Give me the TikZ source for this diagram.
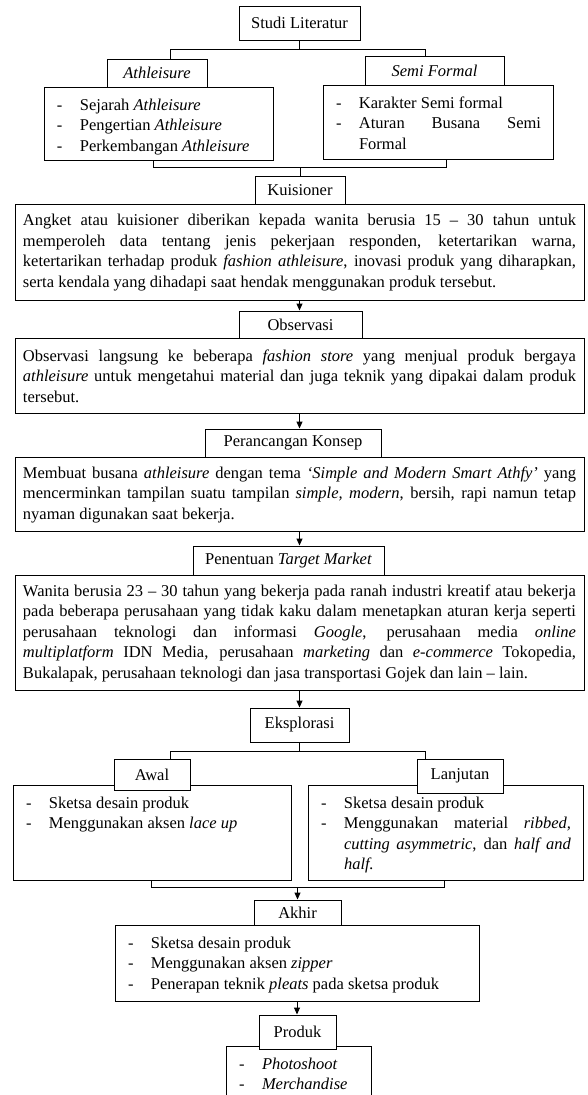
\documentclass[tikz,border=0pt]{standalone}
\usepackage{fontspec}
\setmainfont{Liberation Serif}
\usetikzlibrary{arrows.meta}
\newcommand{\butir}[1]{\makebox[24pt][l]{\hspace{1pt}-}\parbox[t]{\dimexpr\linewidth-24pt}{\strut#1}\par}
\newcommand{\daftarisi}[3]{\parbox[c][#2][t]{#1}{\vspace*{2.5pt}#3}}

\begin{document}
\begin{tikzpicture}[x=1pt,y=-1pt,
  font=\fontsize{16.5pt}{20.5pt}\selectfont,
  judul/.style={draw,line width=1pt,fill=white,inner sep=0pt},
  isi/.style={draw,line width=1pt,fill=white,anchor=north,text width=553pt,
    align=justify,inner xsep=8pt,inner ysep=6pt},
  daftar/.style={draw,line width=1pt,fill=white,anchor=north,inner xsep=12pt,inner ysep=6pt},
  garis/.style={line width=1pt},
  panah/.style={line width=1pt,-{Triangle[length=7pt,width=6pt]}}]
  \clip (0,0) rectangle (587,1095);
  \tolerance=10000 \hbadness=10000 \vbadness=10000 \hyphenpenalty=10000
  % Studi Literatur
  \node[daftar] (daftarA) at (158.5,87)
    {\daftarisi{205pt}{61pt}{\butir{Sejarah \emph{Athleisure}}\butir{Pengertian \emph{Athleisure}}\butir{Perkembangan \emph{Athleisure}}}};
  \node[daftar] (daftarB) at (438,85)
    {\daftarisi{206pt}{62pt}{\butir{Karakter Semi formal}\butir{Aturan Busana Semi\linebreak Formal}}};
  \node[judul,minimum width=121pt,minimum height=34pt] (studi) at (299.5,23) {Studi Literatur};
  \node[judul,minimum width=100pt,minimum height=28pt] (athl) at (157,73) {\emph{Athleisure}};
  \node[judul,minimum width=139pt,minimum height=29pt] (semi) at (434.5,70.5) {\emph{Semi Formal}};
  \coordinate (cabKiri) at (170,49);
  \coordinate (cabKanan) at (425,49);
  \draw[garis] (studi.south) |- (cabKiri) -- (athl.north -| cabKiri);
  \draw[garis] (studi.south) |- (cabKanan) -- (semi.north -| cabKanan);
  \coordinate (gabKiri) at (153,167);
  \coordinate (gabKanan) at (446,167);
  \draw[garis] (daftarA.south -| gabKiri) -- (gabKiri) -- (gabKanan) -- (daftarB.south -| gabKanan);
  % Kuisioner
  \node[judul,minimum width=90pt,minimum height=28pt] (kuis) at (300,190) {Kuisioner};
  \draw[garis] (gabKiri -| kuis.north) -- (kuis.north);
  \node[isi,minimum height=96pt] (kuisT) at (299.5,204)
    {Angket atau kuisioner diberikan kepada wanita berusia 15 -- 30 tahun untuk\linebreak
     memperoleh data tentang jenis pekerjaan responden, ketertarikan warna,\linebreak
     ketertarikan terhadap produk \emph{fashion athleisure}, inovasi produk yang diharapkan,\linebreak
     serta kendala yang dihadapi saat hendak menggunakan produk tersebut.};
  % Observasi
  \node[judul,minimum width=123pt,minimum height=27pt] (obs) at (300.5,324.5) {Observasi};
  \draw[panah] (kuisT.south) -- (kuisT.south |- obs.north);
  \node[isi,minimum height=75pt] (obsT) at (299.5,338)
    {Observasi langsung ke beberapa \emph{fashion store} yang menjual produk bergaya\linebreak
     \emph{athleisure} untuk mengetahui material dan juga teknik yang dipakai dalam produk\linebreak
     tersebut.};
  % Perancangan Konsep
  \node[judul,minimum width=176pt,minimum height=28pt] (konsep) at (293,443) {Perancangan Konsep};
  \draw[panah] (obsT.south) -- (obsT.south |- konsep.north);
  \node[isi,minimum height=74pt] (konsepT) at (299.5,457)
    {Membuat busana \emph{athleisure} dengan tema \emph{`Simple and Modern Smart Athfy'} yang\linebreak
     mencerminkan tampilan suatu tampilan \emph{simple, modern}, bersih, rapi namun tetap\linebreak
     nyaman digunakan saat bekerja.};
  % Penentuan Target Market
  \node[judul,minimum width=191pt,minimum height=29pt] (target) at (288.5,560.5) {Penentuan \emph{Target Market}};
  \draw[panah] (konsepT.south) -- (konsepT.south |- target.north);
  \node[isi,minimum height=115pt] (targetT) at (299.5,575)
    {Wanita berusia 23 -- 30 tahun yang bekerja pada ranah industri kreatif atau bekerja\linebreak
     pada beberapa perusahaan yang tidak kaku dalam menetapkan aturan kerja seperti\linebreak
     perusahaan teknologi dan informasi \emph{Google}, perusahaan media \emph{online}\linebreak
     \emph{multiplatform} IDN Media, perusahaan \emph{marketing} dan \emph{e-commerce} Tokopedia,\linebreak
     Bukalapak, perusahaan teknologi dan jasa transportasi Gojek dan lain -- lain.};
  % Eksplorasi
  \node[judul,minimum width=99pt,minimum height=34pt] (eks) at (299.5,725) {Eksplorasi};
  \draw[panah] (targetT.south) -- (targetT.south |- eks.north);
  \node[daftar] (awalL) at (152,785)
    {\daftarisi{254pt}{83pt}{\butir{Sketsa desain produk}\butir{Menggunakan aksen \emph{lace up}}}};
  \node[daftar] (lanjutL) at (445.5,785)
    {\daftarisi{251pt}{83pt}{\butir{Sketsa desain produk}\butir{Menggunakan material \emph{ribbed,}\linebreak
     \emph{cutting asymmetric}, dan \emph{half and}\linebreak \emph{half.}}}};
  \node[judul,minimum width=76pt,minimum height=31pt] (awal) at (152,774.5) {Awal};
  \node[judul,minimum width=86pt,minimum height=34pt] (lanjut) at (460,776) {Lanjutan};
  \coordinate (cabKiri2) at (170,751);
  \coordinate (cabKanan2) at (425,751);
  \draw[garis] (eks.south) |- (cabKiri2) -- (awal.north -| cabKiri2);
  \draw[garis] (eks.south) |- (cabKanan2) -- (lanjut.north -| cabKanan2);
  % Akhir
  \coordinate (gabKiri2) at (151,887);
  \coordinate (gabKanan2) at (444,887);
  \draw[garis] (awalL.south -| gabKiri2) -- (gabKiri2) -- (gabKanan2) -- (lanjutL.south -| gabKanan2);
  \node[daftar] (akhirL) at (297,925)
    {\daftarisi{340pt}{64pt}{\butir{Sketsa desain produk}\butir{Menggunakan aksen \emph{zipper}}\butir{Penerapan teknik \emph{pleats} pada sketsa produk}}};
  \node[judul,minimum width=87pt,minimum height=25pt] (akhir) at (297.5,912.5) {Akhir};
  \draw[panah] (gabKiri2 -| akhir.north) -- (akhir.north);
  % Produk
  \node[daftar] (produkL) at (298.5,1046)
    {\daftarisi{121pt}{70pt}{\butir{\emph{Photoshoot}}\butir{\emph{Merchandise}}}};
  \node[judul,minimum width=77pt,minimum height=34pt] (produk) at (297.5,1032) {Produk};
  \draw[panah] (akhirL.south) -- (akhirL.south |- produk.north);
\end{tikzpicture}
\end{document}
